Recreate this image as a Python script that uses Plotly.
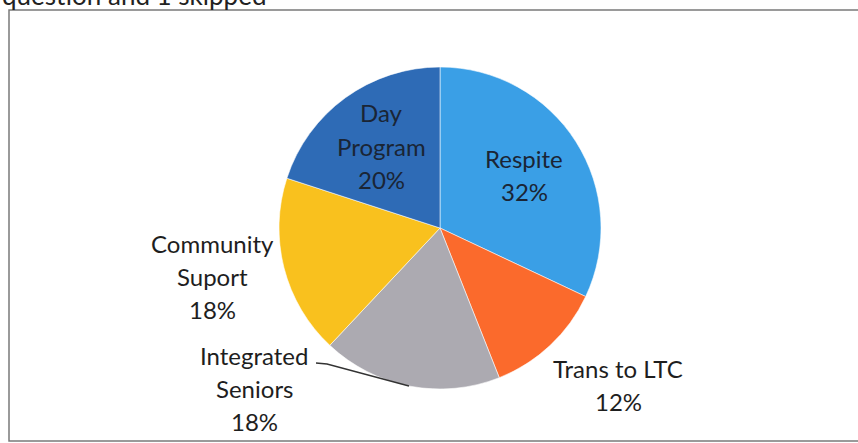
import plotly.graph_objects as go

# Service mix shares (percent), clockwise from 12 o'clock
labels = ["Respite", "Trans to LTC", "Integrated Seniors", "Community Suport", "Day Program"]
values = [32, 12, 18, 18, 20]
label_lines = [["Respite"], ["Trans to LTC"], ["Integrated", "Seniors"], ["Community", "Suport"], ["Day", "Program"]]
colors = ["#3A9FE6", "#FB6A2C", "#ACAAB1", "#F9C11E", "#2E6BB6"]
heading = "question and 1 skipped"

W, H = 858, 443
FONT = "Lato"
FS = 24
LINE_GAP = 33

# first-line centre of each label block, in page pixels
label_pos = [(524, 158), (618, 368), (254, 355), (212, 243), (381, 113)]
label_color = ["#1a2535", "#1e1e1e", "#1e1e1e", "#1e1e1e", "#1a2535"]

cx, cy, r = 440, 228, 161


def px(x):
    return x / W


def py(y):
    return 1 - y / H


fig = go.Figure(
    go.Pie(
        labels=labels,
        values=values,
        sort=False,
        direction="clockwise",
        rotation=0,
        textinfo="none",
        hoverinfo="label+percent",
        marker=dict(colors=colors, line=dict(color="rgba(255,255,255,0.55)", width=1)),
        domain=dict(x=[px(cx - r), px(cx + r)], y=[py(cy + r), py(cy - r)]),
        showlegend=False,
    )
)

annotations = []
for lines, v, (x0, y0), col in zip(label_lines, values, label_pos, label_color):
    for i, t in enumerate(lines + [f"{v}%"]):
        annotations.append(
            dict(
                x=px(x0), y=py(y0 + i * LINE_GAP), xref="paper", yref="paper",
                text=t, showarrow=False, xanchor="center", yanchor="middle",
                font=dict(family=FONT, size=FS, color=col),
            )
        )

# heading running off the top edge
annotations.append(
    dict(
        x=0, y=py(-5), xref="paper", yref="paper", text=heading, showarrow=False,
        xanchor="left", yanchor="middle", font=dict(family=FONT, size=26, color="#222222"),
    )
)

shapes = [
    # frame around the chart
    dict(type="rect", xref="paper", yref="paper", x0=px(9), x1=px(880), y0=py(441), y1=py(10),
         line=dict(color="#7a7a7a", width=1.5), fillcolor="rgba(0,0,0,0)"),
    # leader line for the Integrated Seniors label
    dict(type="path", xref="paper", yref="paper",
         path=f"M {px(316)} {py(363)} L {px(327)} {py(364)} L {px(409)} {py(386)}",
         line=dict(color="#333333", width=1.3)),
]

fig.update_layout(
    width=W, height=H,
    margin=dict(l=0, r=0, t=0, b=0),
    paper_bgcolor="white", plot_bgcolor="white",
    annotations=annotations, shapes=shapes,
)

fig.write_html("out.html")
